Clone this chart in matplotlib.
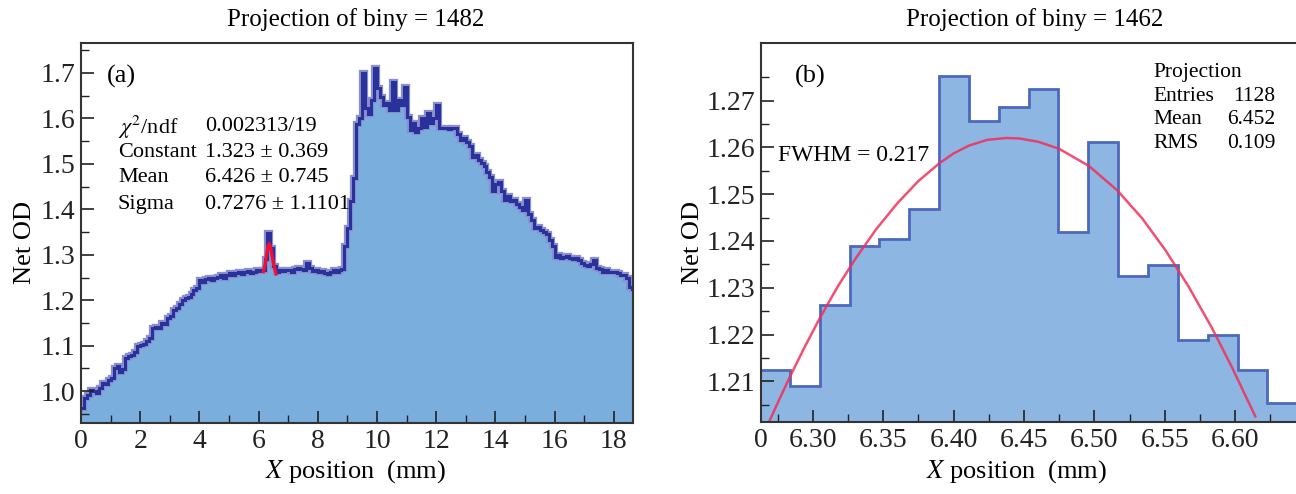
import numpy as np
import matplotlib
matplotlib.use("Agg")
import matplotlib.pyplot as plt
from matplotlib.ticker import MultipleLocator, FixedLocator, FixedFormatter

plt.rcParams['font.family'] = ['Liberation Serif', 'DejaVu Serif']
plt.rcParams['mathtext.fontset'] = 'stix'

# ---- panel (a): net OD profile, 0.1 mm bins from 0 to 18.7 mm ----
edges_a = np.round(np.arange(0, 18.75, 0.1), 2)
od_a = [
    0.962, 0.985, 0.992, 1.002, 1.000, 0.996, 1.008, 1.018, 1.016, 1.024,
    1.030, 1.052, 1.055, 1.043, 1.048, 1.074, 1.078, 1.080, 1.086, 1.099,
    1.101, 1.103, 1.110, 1.118, 1.140, 1.142, 1.140, 1.150, 1.148, 1.160,
    1.165, 1.178, 1.182, 1.192, 1.200, 1.204, 1.208, 1.214, 1.222, 1.228,
    1.244, 1.240, 1.246, 1.250, 1.244, 1.248, 1.252, 1.255, 1.250, 1.256,
    1.259, 1.256, 1.260, 1.263, 1.258, 1.262, 1.264, 1.260, 1.262, 1.266,
    1.264, 1.266, 1.290, 1.347, 1.315, 1.275, 1.262, 1.266, 1.264, 1.266,
    1.266, 1.262, 1.268, 1.270, 1.268, 1.266, 1.281, 1.270, 1.264, 1.266,
    1.262, 1.264, 1.260, 1.258, 1.262, 1.266, 1.262, 1.266, 1.268, 1.320,
    1.360, 1.418, 1.470, 1.588, 1.600, 1.700, 1.622, 1.610, 1.640, 1.711,
    1.668, 1.648, 1.630, 1.633, 1.619, 1.681, 1.619, 1.641, 1.630, 1.670,
    1.604, 1.575, 1.590, 1.571, 1.580, 1.600, 1.582, 1.612, 1.590, 1.600,
    1.630, 1.578, 1.580, 1.578, 1.576, 1.578, 1.578, 1.565, 1.553, 1.556,
    1.549, 1.540, 1.516, 1.520, 1.509, 1.502, 1.496, 1.482, 1.472, 1.440,
    1.455, 1.461, 1.440, 1.421, 1.430, 1.418, 1.421, 1.412, 1.405, 1.399,
    1.421, 1.390, 1.377, 1.358, 1.362, 1.355, 1.351, 1.345, 1.333, 1.320,
    1.296, 1.300, 1.294, 1.296, 1.298, 1.292, 1.290, 1.292, 1.289, 1.282,
    1.278, 1.276, 1.280, 1.289, 1.270, 1.268, 1.263, 1.266, 1.262, 1.263,
    1.263, 1.260, 1.256, 1.255, 1.248, 1.230, 1.225,
]
fit_a_x = [6.16, 6.22, 6.27, 6.32, 6.36, 6.40, 6.45, 6.52, 6.59]
fit_a_y = [1.263, 1.278, 1.300, 1.320, 1.325, 1.318, 1.300, 1.276, 1.258]

stats_a_names = [r"$\chi^2$/ndf", "Constant", "Mean", "Sigma"]
stats_a_vals = ["0.002313/19", "1.323 \u00b1 0.369", "6.426 \u00b1 0.745", "0.7276 \u00b1 1.1101"]

# ---- panel (b): zoom on the peak ----
edges_b = [6.2625, 6.2837, 6.3049, 6.3261, 6.3473, 6.3685, 6.3897, 6.4109, 6.4321,
           6.4533, 6.4745, 6.4957, 6.5169, 6.5381, 6.5593, 6.5805, 6.6017, 6.6229, 6.6441]
od_b = [1.2125, 1.2090, 1.2263, 1.2389, 1.2404, 1.2469, 1.2753, 1.2657, 1.2686,
        1.2725, 1.2419, 1.2611, 1.2326, 1.2348, 1.2189, 1.2198, 1.2125, 1.2053]
fit_b_x = [6.2689, 6.2760, 6.2830, 6.2940, 6.3055, 6.3180, 6.3303, 6.3450, 6.3602,
           6.3750, 6.3899, 6.4000, 6.4111, 6.4240, 6.4373, 6.4466, 6.4600, 6.4749,
           6.4962, 6.5163, 6.5340, 6.5505, 6.5670, 6.5835, 6.5977, 6.6143]
fit_b_y = [1.2013, 1.2060, 1.2105, 1.2172, 1.2238, 1.2304, 1.2362, 1.2425, 1.2481,
           1.2528, 1.2566, 1.2587, 1.2604, 1.2616, 1.2620, 1.2619, 1.2612, 1.2597,
           1.2560, 1.2508, 1.2448, 1.2380, 1.2302, 1.2214, 1.2130, 1.2025]

stats_b_names = ["Entries", "Mean", "RMS"]
stats_b_vals = ["1128", "6.452", "0.109"]

W, H = 1296, 494
fig = plt.figure(figsize=(W / 100, H / 100), dpi=100)


def px_axes(l, t, r, b):
    return fig.add_axes([l / W, 1 - b / H, (r - l) / W, (b - t) / H])


def style(ax):
    ax.tick_params(which='both', direction='in', top=False, right=False,
                   labelsize=20, colors='#222222', pad=4)
    ax.tick_params(which='major', length=9, width=1.2)
    ax.tick_params(which='minor', length=6, width=1.0)
    for s in ax.spines.values():
        s.set_linewidth(1.5)
        s.set_color('#333333')


# panel (a)
ax1 = px_axes(81, 43, 633, 423)
ax1.stairs(od_a, edges_a, baseline=0.9, fill=True, color='#7aaedc', lw=0)
ax1.stairs(od_a, edges_a, baseline=None, color='#8a8fd0', lw=4.5)
ax1.stairs(od_a, edges_a, baseline=None, color='#28329a', lw=2.2)
ax1.plot(fit_a_x, fit_a_y, color='#ee1133', lw=2.4)
ax1.set_xlim(0, 18.65)
ax1.set_ylim(0.93, 1.766)
ax1.xaxis.set_major_locator(MultipleLocator(2))
ax1.xaxis.set_minor_locator(MultipleLocator(1))
ax1.yaxis.set_major_locator(FixedLocator([1.0, 1.1, 1.2, 1.3, 1.4, 1.5, 1.6, 1.7]))
ax1.yaxis.set_minor_locator(FixedLocator([0.95, 1.05, 1.15, 1.25, 1.35, 1.45, 1.55, 1.65, 1.75]))
ax1.yaxis.set_major_formatter(matplotlib.ticker.FormatStrFormatter('%.1f'))
style(ax1)
ax1.text(0.047, 0.911, "(a)", transform=ax1.transAxes, fontsize=19, va='center')
rows_a = [0.779, 0.713, 0.647, 0.574]
for name, val, yy in zip(stats_a_names, stats_a_vals, rows_a):
    ax1.text(0.067, yy, name, transform=ax1.transAxes, fontsize=16, va='center')
    ax1.text(0.225, yy, val, transform=ax1.transAxes, fontsize=16, va='center')

# panel (b)
ax2 = px_axes(761, 43, 1296, 422)
ax2.stairs(od_b, edges_b, baseline=1.19, fill=True, color='#8db7e2', lw=0)
ax2.stairs(od_b, edges_b, baseline=None, color='#4d68bd', lw=2.0)
ax2.plot(fit_b_x, fit_b_y, color='#f0305a', lw=1.8, alpha=0.85)
ax2.set_xlim(6.2632, 6.6432)
ax2.set_ylim(1.2013, 1.2823)
ticks_b = [6.2632, 6.30, 6.35, 6.40, 6.45, 6.50, 6.55, 6.60]
ax2.xaxis.set_major_locator(FixedLocator(ticks_b))
ax2.xaxis.set_major_formatter(FixedFormatter(["0", "6.30", "6.35", "6.40", "6.45",
                                              "6.50", "6.55", "6.60"]))
ax2.xaxis.set_minor_locator(FixedLocator([6.275, 6.325, 6.375, 6.425, 6.475,
                                          6.525, 6.575, 6.625]))
ax2.yaxis.set_major_locator(FixedLocator([1.21, 1.22, 1.23, 1.24, 1.25, 1.26, 1.27]))
ax2.yaxis.set_minor_locator(FixedLocator([1.205, 1.215, 1.225, 1.235, 1.245, 1.255,
                                          1.265, 1.275]))
ax2.yaxis.set_major_formatter(matplotlib.ticker.FormatStrFormatter('%.2f'))
style(ax2)
ax2.spines['right'].set_visible(False)
ax2.text(0.064, 0.913, "(b)", transform=ax2.transAxes, fontsize=19, va='center')
ax2.text(0.032, 0.704, "FWHM = 0.217", transform=ax2.transAxes, fontsize=17, va='center')
ax2.text(0.733, 0.921, "Projection", transform=ax2.transAxes, fontsize=15.5, va='center')
for name, val, yy in zip(stats_b_names, stats_b_vals, [0.858, 0.797, 0.736]):
    ax2.text(0.733, yy, name, transform=ax2.transAxes, fontsize=15.5, va='center')
    ax2.text(0.962, yy, val, transform=ax2.transAxes, fontsize=15.5, va='center', ha='right')

# titles and axis labels
fig.text(356 / W, 1 - 20 / H, "Projection of biny = 1482", fontsize=18, ha='center', va='center')
fig.text(1035 / W, 1 - 20 / H, "Projection of biny = 1462", fontsize=18, ha='center', va='center')
fig.text(356 / W, 1 - 472 / H, r"$X$ position  (mm)", fontsize=19, ha='center', va='center')
fig.text(1017 / W, 1 - 472 / H, r"$X$ position  (mm)", fontsize=19, ha='center', va='center')
fig.text(25 / W, 1 - 243 / H, "Net OD", fontsize=19, rotation=90, ha='center', va='center')
fig.text(693 / W, 1 - 243 / H, "Net OD", fontsize=19, rotation=90, ha='center', va='center')

fig.savefig("out.png", dpi=100)
